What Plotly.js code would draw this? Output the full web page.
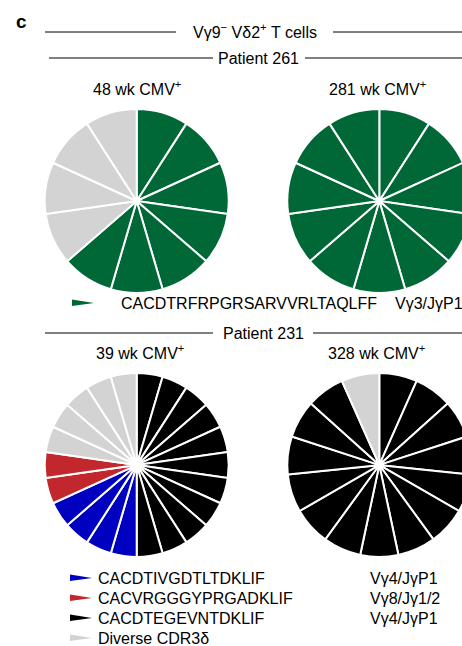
<!DOCTYPE html>
<html>
<head>
<meta charset="utf-8">
<script src="https://cdn.plot.ly/plotly-3.0.1.min.js"></script>
<style>
html,body{margin:0;padding:0;overflow:hidden;background:#fff;}
#chart{width:480px;height:646px;}
</style>
</head>
<body>
<div id="chart"></div>
<script>
// ---- data ----
const panelTitle = 'Vγ9<sup>−</sup> Vδ2<sup>+</sup> T cells';
const patients = ['Patient 261', 'Patient 231'];
const timepoints = ['48 wk CMV<sup>+</sup>', '281 wk CMV<sup>+</sup>', '39 wk CMV<sup>+</sup>', '328 wk CMV<sup>+</sup>'];

// Patient 261 clonotypes (clockwise order from 12 o'clock)
const clones261 = ['CACDTRFRPGRSARVVRLTAQLFF', 'Diverse CDR3δ'];
const colors261 = ['#006837', '#d3d3d3'];
const counts261_48wk = [7, 4];
const counts261_281wk = [11, 0];
const vgene261 = ['Vγ3/JγP1'];

// Patient 231 clonotypes (clockwise order from 12 o'clock)
const clones231 = ['CACDTEGEVNTDKLIF', 'CACDTIVGDTLTDKLIF', 'CACVRGGGYPRGADKLIF', 'Diverse CDR3δ'];
const colors231 = ['#000000', '#0000c0', '#c1272d', '#d3d3d3'];
const counts231_39wk = [11, 4, 2, 5];
const counts231_328wk = [14, 0, 0, 1];

// legend rows for patient 231
const legendClones = ['CACDTIVGDTLTDKLIF', 'CACVRGGGYPRGADKLIF', 'CACDTEGEVNTDKLIF', 'Diverse CDR3δ'];
const legendColors = ['#0000c0', '#c1272d', '#000000', '#d3d3d3'];
const legendVgenes = ['Vγ4/JγP1', 'Vγ8/Jγ1/2', 'Vγ4/JγP1', ''];

// ---- layout helpers ----
const W = 480, H = 646;
const px = x => x / W;
const py = y => 1 - y / H;
const FONT = 'Liberation Sans, Arial, Helvetica, sans-serif';

function expand(cats, cols, counts) {
  const labels = [], values = [], colors = [];
  cats.forEach((c, i) => {
    for (let k = 0; k < counts[i]; k++) {
      labels.push(c + ' #' + (k + 1));
      values.push(1);
      colors.push(cols[i]);
    }
  });
  return {labels, values, colors};
}

function pieTrace(cats, cols, counts, cx, cy, r, hole) {
  const e = expand(cats, cols, counts);
  return {
    type: 'pie', labels: e.labels, values: e.values, hole: hole,
    marker: {colors: e.colors, line: {color: '#ffffff', width: 2}},
    sort: false, direction: 'clockwise', rotation: 0,
    textinfo: 'none', hoverinfo: 'label', showlegend: false,
    domain: {x: [px(cx - r), px(cx + r)], y: [py(cy + r), py(cy - r)]}
  };
}

const R = 92;
const data = [
  pieTrace(clones261, colors261, counts261_48wk, 136.7, 201, R, 0.02),
  pieTrace(clones261, colors261, counts261_281wk, 379.3, 201, R, 0.02),
  pieTrace(clones231, colors231, counts231_39wk, 136.7, 465, R, 0.06),
  pieTrace(clones231, colors231, counts231_328wk, 379.3, 465, R, 0.04)
];

const shapes = [];
const annotations = [];
function hline(x0, x1, y) {
  shapes.push({type: 'line', xref: 'paper', yref: 'paper', x0: px(x0), x1: px(x1), y0: py(y), y1: py(y), line: {color: '#000', width: 1}});
}
function text(t, x, y, anchor, size, bold) {
  annotations.push({text: bold ? '<b>' + t + '</b>' : t, xref: 'paper', yref: 'paper', x: px(x), y: py(y),
    xanchor: anchor, yanchor: 'middle', showarrow: false, font: {family: FONT, size: size || 16, color: '#000'}});
}
function arrow(x, y, color) {
  const p = `M ${px(x)},${py(y - 3.5)} L ${px(x + 22)},${py(y)} L ${px(x)},${py(y + 3)} Z`;
  shapes.push({type: 'path', xref: 'paper', yref: 'paper', path: p, fillcolor: color, line: {width: 0}});
}

text('c', 14, 21, 'left', 19, true);
hline(45, 176, 32); text(panelTitle, 255, 31, 'center', 16);
hline(333, 480, 32);
hline(49, 213, 58); text(patients[0], 258, 58, 'center', 16);
hline(305, 480, 58);
text(timepoints[0], 137, 88, 'center', 16);
text(timepoints[1], 377, 88, 'center', 16);

arrow(72, 303, colors261[0]);
text(clones261[0], 119, 303, 'left', 16);
text(vgene261[0], 393, 303, 'left', 16);

hline(45, 213, 333); text(patients[1], 263, 333, 'center', 16);
hline(313, 480, 333);
text(timepoints[2], 140, 352, 'center', 16);
text(timepoints[3], 376, 352, 'center', 16);

const legY0 = 578, legDy = 20;
legendClones.forEach((c, i) => {
  const y = legY0 + i * legDy;
  arrow(70, y, legendColors[i]);
  text(c, 96, y, 'left', 16);
  if (legendVgenes[i]) text(legendVgenes[i], 368, y, 'left', 16);
});

const layout = {
  width: W, height: H,
  margin: {l: 0, r: 0, t: 0, b: 0},
  paper_bgcolor: '#fff', plot_bgcolor: '#fff',
  font: {family: FONT, color: '#000'},
  showlegend: false,
  shapes, annotations
};

Plotly.newPlot('chart', data, layout, {displayModeBar: false, staticPlot: true});
</script>
</body>
</html>
